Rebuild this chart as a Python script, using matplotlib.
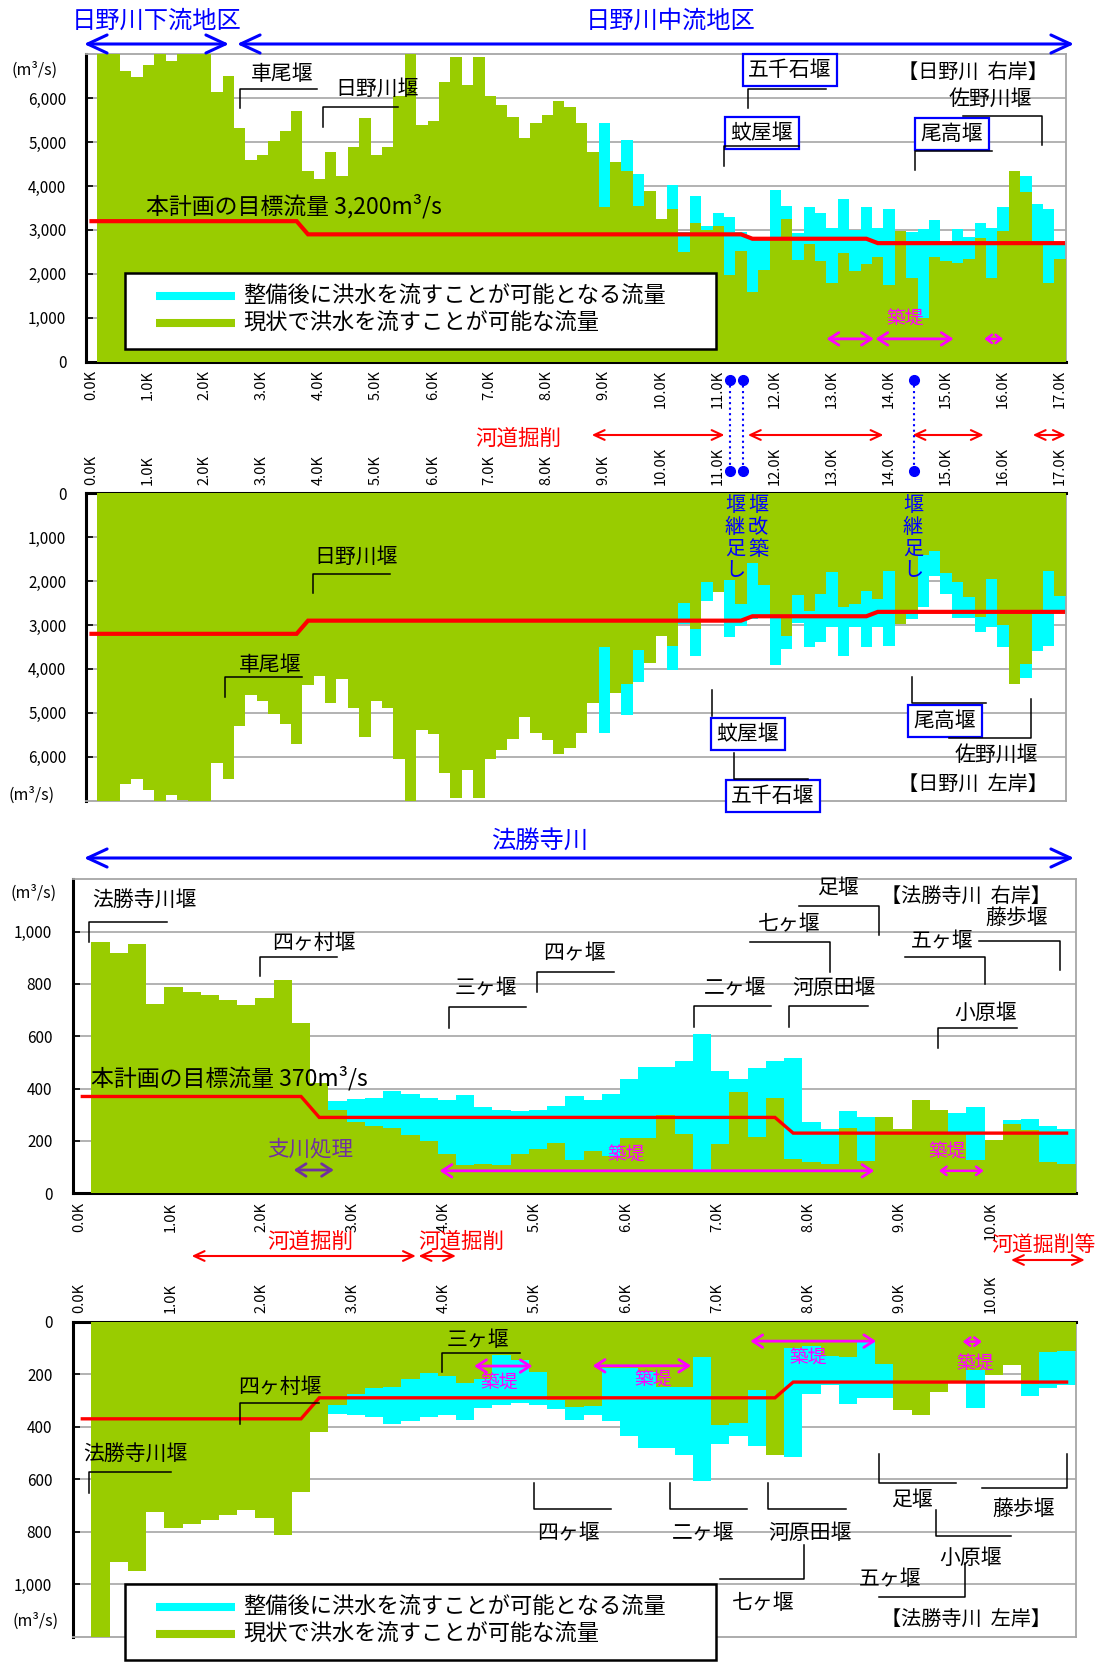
import numpy as np
import matplotlib
matplotlib.use("Agg")
import matplotlib.pyplot as plt
from matplotlib.patches import Rectangle
from matplotlib.transforms import blended_transform_factory, ScaledTranslation

plt.rcParams["font.family"] = ["Noto Sans CJK JP", "DejaVu Sans"]

GREEN = "#99CC00"
CYAN = "#00FFFF"
RED = "#FF0000"
BLUE = "#0000FF"
MAGENTA = "#FF00FF"
PURPLE = "#7030A0"
GRID = "#A6A6A6"

# ---------------- 日野川 : sections every 0.2 km (0.2K - 17.0K) ----------------
hino_km = [round(0.2 * i, 1) for i in range(1, 86)]

hino_right_now = [
    7000, 7000, 6620, 6490, 6745, 7000, 6845, 7000, 7000, 7000,
    6150, 6515, 5320, 4585, 4715, 5025, 5245, 5710, 4350, 4160,
    4785, 4220, 4880, 5550, 4715, 4880, 6045, 7000, 5385, 5485,
    6380, 6935, 6290, 6935, 6045, 5835, 5575, 5095, 5445, 5610,
    5945, 5800, 5445, 4785, 3515, 4550, 4350, 3555, 3880, 3250,
    3480, 2490, 3160, 2995, 3090, 1985, 2515, 1580, 2090, 2785,
    3250, 2320, 2675, 2285, 1785, 2475, 2055, 2215, 2375, 1740,
    2985, 1910, 990, 2375, 2285, 2245, 2345, 2825, 1910, 2980,
    4350, 3875, 2700, 1785, 2345]
hino_right_after = [
    7000, 7000, 6620, 6490, 6745, 7000, 6845, 7000, 7000, 7000,
    6150, 6515, 5320, 4585, 4715, 5025, 5245, 5710, 4350, 4160,
    4785, 4220, 4880, 5550, 4715, 4880, 6045, 7000, 5385, 5485,
    6380, 6935, 6290, 6935, 6045, 5835, 5575, 5095, 5445, 5610,
    5945, 5800, 5445, 4785, 5445, 4550, 5055, 4280, 3880, 3250,
    4025, 2950, 3775, 3090, 3390, 3285, 2950, 2810, 2775, 3915,
    3548, 2940, 3518, 3390, 3050, 3708, 3000, 3518, 3050, 3476,
    2985, 2945, 3015, 3216, 2750, 3015, 2840, 3150, 3055, 3518,
    4350, 4220, 3585, 3476, 2712]
hino_left_now = [
    7000, 7000, 6615, 6495, 6745, 7000, 6860, 6990, 7000, 7000,
    6150, 6515, 5310, 4590, 4725, 5030, 5260, 5715, 4360, 4160,
    4785, 4220, 4880, 5540, 4725, 4880, 6060, 7000, 5395, 5490,
    6380, 6935, 6290, 6935, 6060, 5845, 5590, 5090, 5455, 5615,
    5945, 5810, 5450, 4775, 3510, 4545, 4350, 3565, 3875, 3255,
    3485, 2490, 3090, 2015, 2245, 1975, 2515, 1580, 2090, 2840,
    3255, 2320, 2690, 2285, 1785, 2590, 2530, 2220, 2400, 1770,
    2975, 2745, 1400, 1325, 1825, 2030, 2360, 2820, 1955, 2990,
    4350, 3895, 2745, 1770, 2345]
hino_left_after = [
    7000, 7000, 6615, 6495, 6745, 7000, 6860, 6990, 7000, 7000,
    6150, 6515, 5310, 4590, 4725, 5030, 5260, 5715, 4360, 4160,
    4785, 4220, 4880, 5540, 4725, 4880, 6060, 7000, 5395, 5490,
    6380, 6935, 6290, 6935, 6060, 5845, 5590, 5090, 5455, 5615,
    5945, 5810, 5450, 4775, 5450, 4545, 5045, 4290, 3875, 3255,
    4023, 2970, 3716, 2452, 2245, 3280, 3027, 2858, 2800, 3910,
    3548, 2958, 3510, 3395, 3050, 3716, 3050, 3510, 3050, 3487,
    2975, 2870, 2590, 1880, 2290, 2830, 2835, 3150, 3040, 3510,
    4350, 4214, 3586, 3487, 2705]

hino_target_km = [0.1, 3.7, 3.9, 11.5, 11.7, 13.7, 13.9, 17.15]
hino_target = [3200, 3200, 2900, 2900, 2800, 2800, 2700, 2700]

hino_levee_km = [(13.0, 13.83), (13.86, 15.23), (15.77, 16.1)]
hino_dredge_km = [(8.88, 11.21), (11.62, 14.0), (14.51, 15.76), (16.62, 17.2)]
hino_weir_work_km = [11.31, 11.54, 14.53]

# ---------------- 法勝寺川 : sections every 0.2 km (0.2K - 10.8K) ----------------
hoshoji_km = [round(0.2 * i, 1) for i in range(1, 55)]

hoshoji_right_now = [
    959, 920, 953, 725, 789, 769, 759, 738, 718, 748,
    815, 651, 420, 320, 272, 257, 250, 222, 198, 149,
    107, 113, 107, 149, 170, 194, 129, 163, 144, 210,
    210, 301, 227, 90, 189, 386, 217, 364, 131, 118,
    112, 250, 125, 290, 246, 358, 319, 236, 126, 205,
    265, 242, 121, 113]
hoshoji_right_after = [
    959, 920, 953, 725, 789, 769, 759, 738, 718, 748,
    815, 651, 420, 353, 360, 365, 392, 381, 364, 358,
    375, 330, 318, 315, 318, 335, 373, 358, 381, 438,
    484, 484, 507, 610, 468, 438, 478, 505, 518, 272,
    246, 313, 291, 290, 246, 358, 319, 308, 330, 205,
    280, 284, 259, 246]
hoshoji_left_now = [
    1200, 917, 951, 725, 785, 770, 756, 737, 718, 747,
    814, 647, 420, 316, 274, 253, 248, 219, 197, 208,
    232, 217, 125, 144, 191, 297, 325, 322, 175, 175,
    191, 248, 248, 134, 392, 386, 259, 506, 99, 93,
    130, 136, 76, 163, 338, 357, 268, 233, 185, 204,
    166, 236, 115, 111]
hoshoji_left_after = [
    1200, 917, 951, 725, 785, 770, 756, 737, 718, 747,
    814, 647, 420, 353, 357, 363, 391, 380, 363, 357,
    373, 329, 316, 310, 316, 334, 373, 357, 380, 436,
    480, 480, 506, 608, 465, 437, 475, 506, 516, 274,
    242, 312, 290, 290, 338, 357, 268, 233, 329, 204,
    166, 284, 252, 242]

hoshoji_target_km = [0.1, 2.5, 2.7, 7.7, 7.9, 10.9]
hoshoji_target = [370, 370, 290, 290, 230, 230]

hoshoji_right_levee_km = [(4.02, 8.79), (9.5, 9.99)]
hoshoji_left_levee_km = [(4.4, 5.04), (5.7, 6.78), (7.43, 8.81), (9.76, 9.97)]
hoshoji_tributary_km = (2.42, 2.86)
hoshoji_dredge_km = [(1.3, 3.76), (3.79, 4.2)]
hoshoji_dredge_etc_km = (10.29, 11.1)

LEGEND_AFTER = "整備後に洪水を流すことが可能となる流量"
LEGEND_NOW = "現状で洪水を流すことが可能な流量"

# ---------------- figure ----------------
W, H = 1099, 1662
fig = plt.figure(figsize=(W / 100, H / 100), dpi=100)


def panel(left, top, right, bottom):
    return fig.add_axes([left / W, 1 - bottom / H, (right - left) / W, (bottom - top) / H])


def draw_bank(ax, km, now, after, t_km, target, xmax, nxt, ymax, ystep,
              inverted, red_lw, ylab_pad, dx_pt):
    ax.bar(km, after, width=0.2, align="edge", color=CYAN, linewidth=0, zorder=2)
    ax.bar(km, now, width=0.2, align="edge", color=GREEN, linewidth=0, zorder=3)
    ax.plot(t_km, target, color=RED, lw=red_lw, zorder=4, solid_joinstyle="miter")
    ax.set_xlim(0, xmax)
    ax.set_ylim((ymax, 0) if inverted else (0, ymax))
    yt = np.arange(0, ymax, ystep)
    ax.set_yticks(yt)
    ax.set_yticklabels([f"{int(v):,}" for v in yt])
    xt = list(range(0, nxt + 1))
    ax.set_xticks(xt)
    ax.set_xticklabels([f"{v:.1f}K" for v in xt])
    ax.yaxis.grid(True, color=GRID, lw=1.2)
    ax.set_axisbelow(True)
    dark = ("left", "top") if inverted else ("left", "bottom")
    for side, sp in ax.spines.items():
        if side in dark:
            sp.set_color("black")
            sp.set_linewidth(2.2)
        else:
            sp.set_color(GRID)
            sp.set_linewidth(1.3)
    if inverted:
        ax.xaxis.tick_top()
    ax.tick_params(axis="x", direction="in", length=5, width=1.4, labelsize=10.5,
                   labelrotation=90, pad=6)
    ax.tick_params(axis="y", direction="in", length=5, width=1.2, labelsize=11,
                   pad=ylab_pad)
    off = ScaledTranslation(dx_pt / 72, 0, fig.dpi_scale_trans)
    for lab in ax.get_xticklabels():
        lab.set_transform(lab.get_transform() + off)
    ax.set_zorder(2)


ax1 = panel(85.8, 54.3, 1065.8, 361.7)
ax2 = panel(85.8, 493.3, 1065.8, 800.7)
ax3 = panel(73.2, 879.3, 1075.7, 1193.3)
ax4 = panel(73.2, 1321.7, 1075.7, 1636.7)

draw_bank(ax1, hino_km, hino_right_now, hino_right_after, hino_target_km, hino_target,
          17.2, 17, 7000, 1000, False, 3.0, 14, 3.6)
draw_bank(ax2, hino_km, hino_left_now, hino_left_after, hino_target_km, hino_target,
          17.2, 17, 7000, 1000, True, 3.0, 14, 3.6)
draw_bank(ax3, hoshoji_km, hoshoji_right_now, hoshoji_right_after, hoshoji_target_km,
          hoshoji_target, 11.0, 10, 1200, 200, False, 2.4, 15, 4.5)
draw_bank(ax4, hoshoji_km, hoshoji_left_now, hoshoji_left_after, hoshoji_target_km,
          hoshoji_target, 11.0, 10, 1200, 200, True, 2.4, 15, 4.5)

# overlay in pixel units for labels, leaders and range arrows
ov = fig.add_axes([0, 0, 1, 1], zorder=10)
ov.set_xlim(0, W)
ov.set_ylim(H, 0)
ov.set_autoscale_on(False)
ov.axis("off")


def label(x, y, s, size=15, color="black", ha="center", va="center", boxed=False, **kw):
    bbox = dict(boxstyle="square,pad=0.25", fc="white", ec=BLUE, lw=1.6) if boxed else None
    ov.text(x, y, s, fontsize=size, color=color, ha=ha, va=va, bbox=bbox,
            zorder=7, **kw)


def leader(pts):
    xs, ys = zip(*pts)
    ov.plot(xs, ys, color="black", lw=1.1, zorder=8)


def span(owner, x0, x1, y, color, lw, hl, hw, trans=None):
    coords = trans if trans is not None else "data"
    owner.annotate("", xy=(x1, y), xytext=(x0, y), xycoords=coords, textcoords=coords,
                   arrowprops=dict(arrowstyle=f"<->,head_length={hl},head_width={hw}",
                                   color=color, lw=lw, shrinkA=0, shrinkB=0,
                                   mutation_scale=1),
                   annotation_clip=False, zorder=6)


def levee_span(ax, a, b, y):
    # short spans get smaller heads so the two heads stay apart
    if b - a < 0.5:
        span(ax, a, b, y, MAGENTA, 1.8, 4.0, 3.0)
    else:
        span(ax, a, b, y, MAGENTA, 2.0, 7, 4.5)


def legend_box(top, bottom):
    ov.add_patch(Rectangle((125, top), 591, bottom - top, fc="white", ec="black",
                           lw=1.8, zorder=5))
    for dy, c, s in [(23, CYAN, LEGEND_AFTER), (50, GREEN, LEGEND_NOW)]:
        ov.plot([156, 235], [top + dy, top + dy], color=c, lw=5.8,
                solid_capstyle="butt", zorder=6)
        ov.text(243, top + dy, s, fontsize=16, ha="left", va="center", zorder=6)


# ---- 日野川 右岸 ----
label(157, 21, "日野川下流地区", size=17.5, color=BLUE)
label(671, 21, "日野川中流地区", size=17.5, color=BLUE)
span(ov, 84, 229, 44, BLUE, 2.2, 14, 6.5)
span(ov, 237, 1074, 44, BLUE, 2.2, 14, 6.5)
label(35, 70, "(m³/s)", size=11.5)

label(282, 74, "車尾堰")
leader([(240, 108), (240, 88.7), (317, 88.7)])
label(377, 89, "日野川堰")
leader([(323, 127), (323, 107), (398, 107)])
label(146, 206, "本計画の目標流量 3,200m³/s", size=16.5, ha="left")
label(790, 70, "五千石堰", boxed=True)
leader([(748, 108), (748, 88.7), (826, 88.7)])
label(973, 73, "【日野川  右岸】", size=14.5)
label(990, 99, "佐野川堰")
leader([(963, 116), (1042, 116), (1042, 145)])
label(762, 133, "蚊屋堰", boxed=True)
leader([(724, 166), (724, 146), (799, 146)])
label(952, 134, "尾高堰", boxed=True)
leader([(915, 170), (915, 151), (992, 151)])
label(905, 318, "築堤", size=13.5, color=MAGENTA)
for a, b in hino_levee_km:
    levee_span(ax1, a, b, 520)
legend_box(273, 349)

# ---- works between the 日野川 panels ----
bt1 = blended_transform_factory(ax1.transData, ov.transData)
label(518, 439, "河道掘削", size=15.5, color=RED)
for a, b in hino_dredge_km:
    span(ov, a, b, 435, RED, 1.5, 7.5, 3.5, trans=bt1)
for k in hino_weir_work_km:
    ov.plot([k, k], [380, 471], color=BLUE, lw=1.5, ls=":", transform=bt1, zorder=6)
    ov.plot([k, k], [380, 471], color=BLUE, lw=0, marker="o", ms=7, transform=bt1,
            zorder=7)

# ---- 日野川 左岸 ----
label(735, 495, "堰\n継\n足\nし", size=14.5, color=BLUE, va="top", linespacing=1.05)
label(758, 495, "堰\n改\n築", size=14.5, color=BLUE, va="top", linespacing=1.05)
label(913, 495, "堰\n継\n足\nし", size=14.5, color=BLUE, va="top", linespacing=1.05)
label(356, 557, "日野川堰")
leader([(313, 593), (313, 573.7), (390, 573.7)])
label(270, 665, "車尾堰")
leader([(225, 697), (225, 676.7), (302, 676.7)])
label(748, 734, "蚊屋堰", boxed=True)
leader([(712, 690), (712, 716)])
leader([(734, 753), (734, 779), (808, 779)])
label(773, 796, "五千石堰", boxed=True)
label(945, 721, "尾高堰", boxed=True)
leader([(912, 677), (912, 703), (986, 703)])
label(996, 755, "佐野川堰")
leader([(1031, 699), (1031, 738), (949, 738)])
label(973, 785, "【日野川  左岸】", size=14.5)
label(32, 795, "(m³/s)", size=11.5)

# ---- 法勝寺川 右岸 ----
label(540, 841, "法勝寺川", size=17.5, color=BLUE)
span(ov, 84, 1074, 858, BLUE, 2.2, 14, 6.5)
label(34, 893, "(m³/s)", size=11.5)
label(144, 900, "法勝寺川堰")
leader([(89, 941.7), (89, 922), (167, 922)])
label(314, 943, "四ヶ村堰")
leader([(259.6, 975.7), (259.6, 956.7), (336.8, 956.7)])
label(486, 988, "三ヶ堰")
leader([(449, 1028), (449, 1007), (526, 1007)])
label(574, 953, "四ヶ堰")
leader([(537, 991.7), (537, 971.7), (614, 971.7)])
label(735, 988, "二ヶ堰")
leader([(693.6, 1026.7), (693.6, 1005.7), (771.4, 1005.7)])
label(834, 988, "河原田堰")
leader([(789, 1026.7), (789, 1005.7), (868, 1005.7)])
label(789, 924, "七ヶ堰")
leader([(749.6, 941.7), (830, 941.7), (830, 971.7)])
label(838, 888, "足堰")
leader([(799, 906), (879, 906), (879, 935)])
label(966, 897, "【法勝寺川  右岸】", size=14.5)
label(1017, 918, "藤歩堰")
leader([(979, 940.7), (1060, 940.7), (1060, 970)])
label(942, 941, "五ヶ堰")
leader([(905, 956.7), (984.6, 956.7), (984.6, 984)])
label(986, 1013, "小原堰")
leader([(938, 1048), (938, 1028), (1016.8, 1028)])
label(91, 1078, "本計画の目標流量 370m³/s", size=16.5, ha="left")
label(310, 1150, "支川処理", size=15.5, color=PURPLE)
span(ax3, hoshoji_tributary_km[0], hoshoji_tributary_km[1], 89, PURPLE, 2.0, 7, 4.5)
label(626, 1154, "築堤", size=13.5, color=MAGENTA)
label(947, 1151, "築堤", size=13.5, color=MAGENTA)
for a, b in hoshoji_right_levee_km:
    levee_span(ax3, a, b, 86)

# ---- works between the 法勝寺川 panels ----
bt3 = blended_transform_factory(ax3.transData, ov.transData)
label(310, 1242, "河道掘削", size=15.5, color=RED)
label(461, 1242, "河道掘削", size=15.5, color=RED)
label(1043, 1245, "河道掘削等", size=15, color=RED)
for a, b in hoshoji_dredge_km:
    span(ov, a, b, 1256, RED, 1.5, 7.5, 3.5, trans=bt3)
span(ov, hoshoji_dredge_etc_km[0], hoshoji_dredge_etc_km[1], 1260, RED, 1.5, 7.5, 3.5,
     trans=bt3)

# ---- 法勝寺川 左岸 ----
label(478, 1340, "三ヶ堰")
leader([(441.8, 1372), (441.8, 1352.7), (520, 1352.7)])
label(499, 1382, "築堤", size=13.5, color=MAGENTA)
label(653, 1379, "築堤", size=13.5, color=MAGENTA)
label(808, 1357, "築堤", size=13.5, color=MAGENTA)
label(975, 1363, "築堤", size=13.5, color=MAGENTA)
for (a, b), y in zip(hoshoji_left_levee_km, [169, 168, 74, 76]):
    levee_span(ax4, a, b, y)
label(280, 1387, "四ヶ村堰")
leader([(240, 1424), (240, 1403), (319, 1403)])
label(135, 1454, "法勝寺川堰")
leader([(89, 1492.7), (89, 1472), (171, 1472)])
label(568, 1533, "四ヶ堰")
leader([(534, 1482.7), (534, 1509), (610.7, 1509)])
label(703, 1533, "二ヶ堰")
leader([(669.6, 1482.7), (669.6, 1509), (747, 1509)])
label(810, 1533, "河原田堰")
leader([(768, 1482.7), (768, 1509), (846, 1509)])
leader([(804, 1545), (804, 1579), (719.6, 1579)])
label(763, 1603, "七ヶ堰")
label(912, 1500, "足堰")
leader([(878.6, 1454), (878.6, 1482.7), (956, 1482.7)])
label(1024, 1509, "藤歩堰")
leader([(1066.8, 1454), (1066.8, 1488), (981.8, 1488)])
label(971, 1558, "小原堰")
leader([(935.7, 1510), (935.7, 1536), (1011, 1536)])
label(890, 1579, "五ヶ堰")
leader([(965, 1563), (965, 1596.7), (879, 1596.7)])
label(966, 1620, "【法勝寺川  左岸】", size=14.5)
label(36, 1621, "(m³/s)", size=11.5)
legend_box(1584, 1660)

fig.savefig("out.png", dpi=100)
